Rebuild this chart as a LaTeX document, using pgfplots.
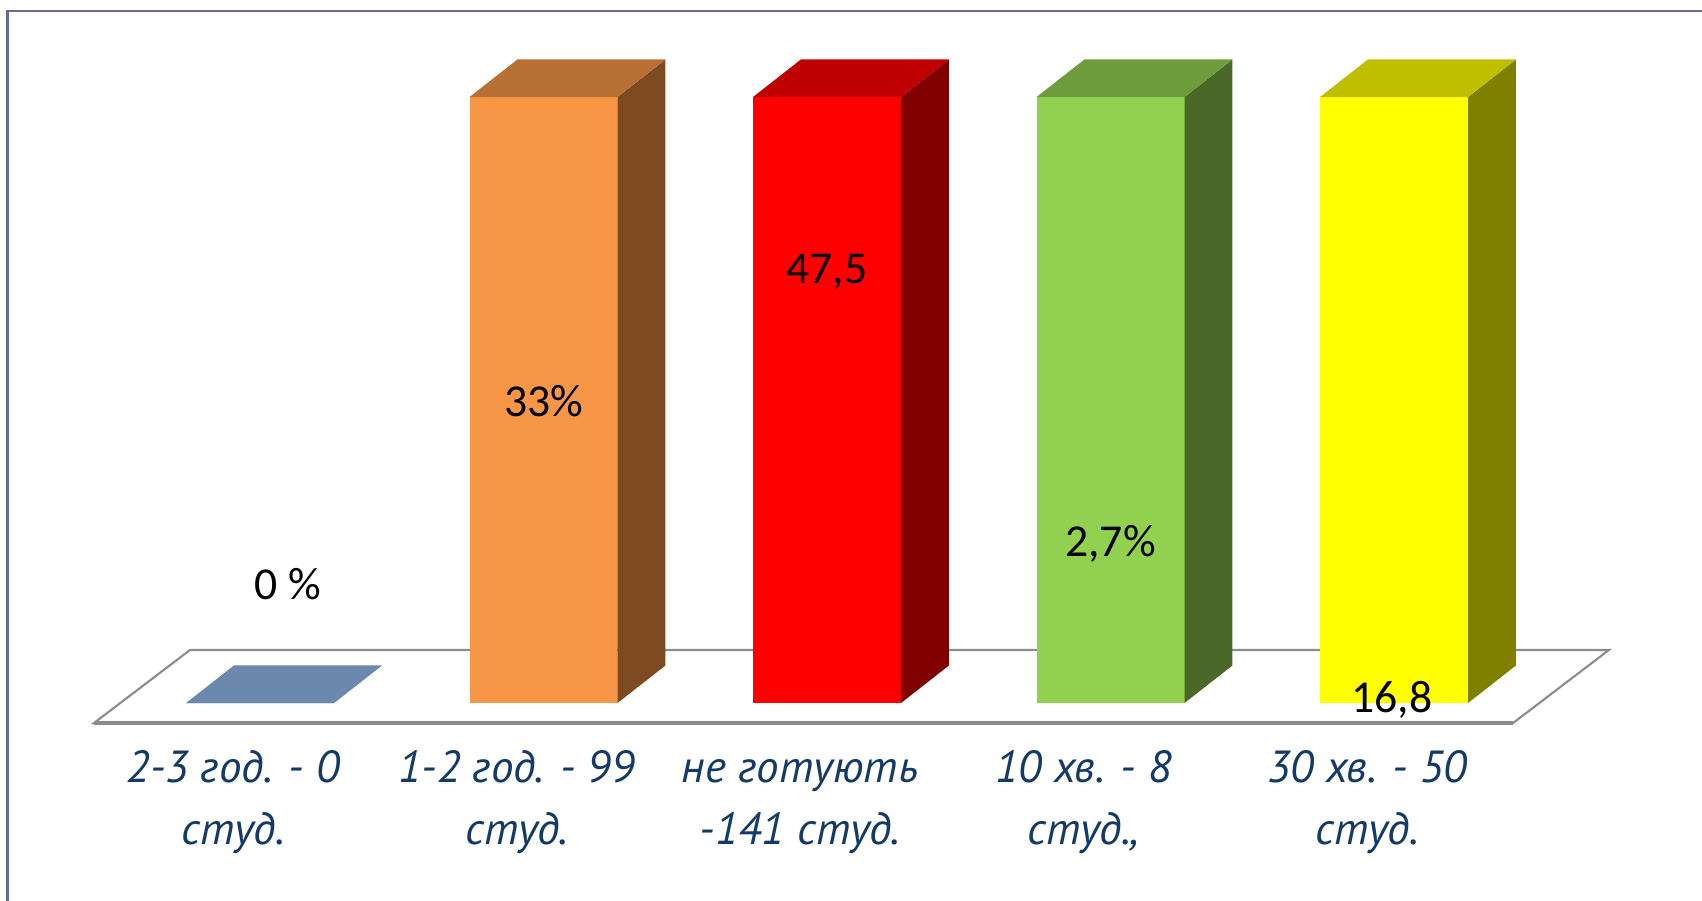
\documentclass[border=0pt]{standalone}
\usepackage{pgfplots}
\pgfplotsset{compat=1.18}
\usepackage{fontspec}
\setmainfont{Carlito}
\newfontfamily\catfont{PT Sans}

\definecolor{framec}{HTML}{6A6A9C}
\definecolor{catc}{HTML}{133A68}
\definecolor{floorc}{HTML}{8C8C8C}
\definecolor{blueTop}{HTML}{6B88AD}
\definecolor{orFront}{HTML}{F79646}
\definecolor{orTop}{HTML}{B97034}
\definecolor{orSide}{HTML}{7E4A22}
\definecolor{rdFront}{HTML}{FF0000}
\definecolor{rdTop}{HTML}{BF0000}
\definecolor{rdSide}{HTML}{800000}
\definecolor{grFront}{HTML}{92D050}
\definecolor{grTop}{HTML}{6F9C3C}
\definecolor{grSide}{HTML}{4A6828}
\definecolor{ywFront}{HTML}{FFFF00}
\definecolor{ywTop}{HTML}{BFBF00}
\definecolor{ywSide}{HTML}{808000}

% 3d bar: index, height, front, top, side
\newcommand{\cube}[5]{%
  \pgfmathsetmacro\xl{#1-0.261}%
  \pgfmathsetmacro\xr{#1+0.261}%
  \pgfmathsetmacro\xbl{#1-0.261+0.169}%
  \pgfmathsetmacro\xbr{#1+0.261+0.169}%
  \pgfmathsetmacro\yb{#2+6.19}%
  \addplot[ybar, bar width=0.522, bar shift=0, fill=#3, draw=none] coordinates {(#1,#2)};
  \addplot[fill=#5, draw=none] coordinates {(\xr,0) (\xbr,6.19) (\xbr,\yb) (\xr,#2)} -- cycle;
  \addplot[fill=#4, draw=none] coordinates {(\xl,#2) (\xr,#2) (\xbr,\yb) (\xbl,\yb)} -- cycle;
}

\begin{document}
\begin{tikzpicture}
\path[use as bounding box] (0,0) rectangle (170.2mm,-90mm);
\draw[framec, line width=0.25mm] (0.75mm,-92mm) -- (0.75mm,-1.1mm) -- (172mm,-1.1mm);
\begin{axis}[
    at={(26mm,-70.3mm)}, anchor=origin,
    x=28.35mm, y=0.606mm,
    xmin=-0.7, xmax=4.85, ymin=-5, ymax=108,
    hide axis, clip=false,
  ]
  % floor
  \addplot[fill=white, draw=floorc, line width=0.6pt]
    coordinates {(-0.5855,-3.3) (4.42,-3.3) (4.758,8.75) (-0.247,8.75)} -- cycle;
  \addplot[draw=floorc, line width=1.1pt] coordinates {(-0.5855,-3.3) (4.42,-3.3)};

  \cube{0}{0}{blueTop}{blueTop}{blueTop}
  \cube{1}{100}{orFront}{orTop}{orSide}
  \cube{2}{100}{rdFront}{rdTop}{rdSide}
  \cube{3}{100}{grFront}{grTop}{grSide}
  \cube{4}{100}{ywFront}{ywTop}{ywSide}

  % value labels
  \begin{scope}[every node/.style={anchor=base, font=\fontsize{13}{15.6}\selectfont, text=black, inner sep=0pt}]
    \node at (axis cs:0.099,17.0) {0 \%};
    \node at (axis cs:1.0,47.2) {33\%};
    \node at (axis cs:2.0,69.3) {47,5};
    \node at (axis cs:3.0,24.1) {2,7\%};
    \node at (axis cs:3.993,-1.5) {16,8};
  \end{scope}

  % category labels (base = baseline of the second line)
  \begin{scope}[every node/.style={anchor=base, align=center, inner sep=0pt,
      font=\catfont\fontsize{12.8}{17.6}\selectfont\itshape, text=catc}]
    \node at (axis cs:-0.095,-23.4) {2-3 год. - 0\\студ.};
    \node at (axis cs:0.905,-23.4) {1-2 год. - 99\\студ.};
    \node at (axis cs:1.905,-23.4) {не готують\\-141 студ.};
    \node at (axis cs:2.905,-23.4) {10 хв. - 8\\студ.,};
    \node at (axis cs:3.905,-23.4) {30 хв. - 50\\студ.};
  \end{scope}
\end{axis}
\end{tikzpicture}
\end{document}
